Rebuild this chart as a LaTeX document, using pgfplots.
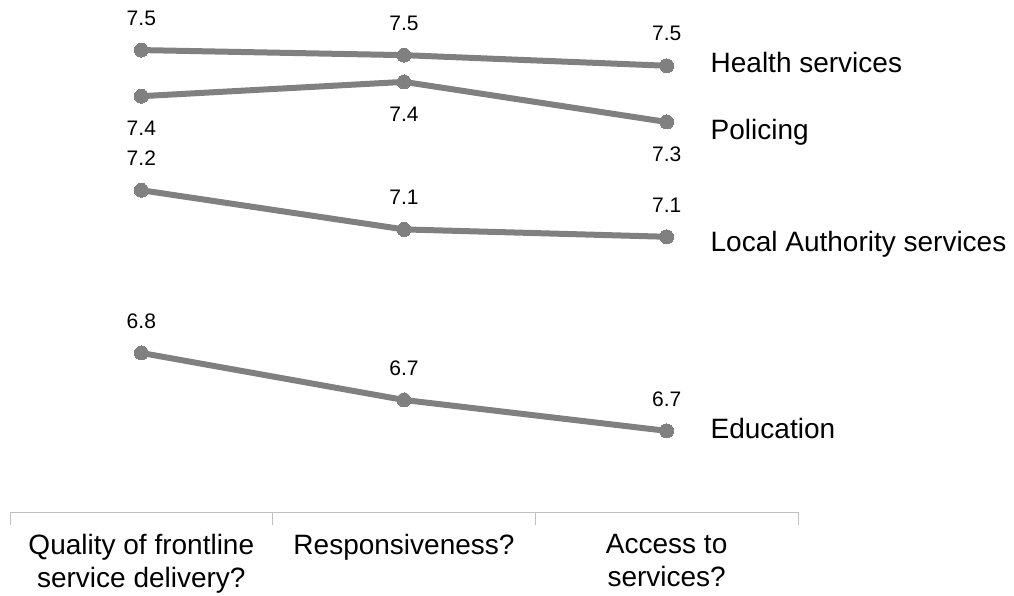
\documentclass[border=0pt]{standalone}
\usepackage{fontspec}
\setmainfont{Liberation Sans}
\usepackage{pgfplots}
\pgfplotsset{compat=1.18}

\definecolor{linegray}{HTML}{808080}
\definecolor{axisgray}{HTML}{BFBFBF}
\newcommand\bigfont{\fontsize{28}{33}\selectfont}
\newcommand\valfont{\fontsize{21}{25}\selectfont}

\pgfplotsset{
  % value labels printed from the plotted value, one decimal
  vals/.style={
    nodes near coords,
    every node near coord/.append style={
      black, font=\valfont, inner sep=0pt, anchor=center, yshift=#1,
      /pgf/number format/fixed,
      /pgf/number format/fixed zerofill,
      /pgf/number format/precision=1,
      /pgf/number format/assume math mode=true}},
}
% series name to the right of the last point
\tikzset{serieslabel/.style={black, font=\bigfont, inner sep=0pt, anchor=base west, xshift=41pt}}

\begin{document}
\begin{tikzpicture}
\begin{axis}[
  at={(10pt,83pt)}, anchor=south west,
  scale only axis, width=788pt, height=507.1pt,
  xmin=-0.5, xmax=2.5, ymin=6.5, ymax=7.6,
  axis x line*=bottom, axis y line=none,
  x axis line style={axisgray, line width=1pt},
  xtick={0,1,2},
  xticklabels={{Quality of frontline\\service delivery?},{Responsiveness?},{Access to\\services?}},
  major tick length=0pt,
  xticklabel style={font=\bigfont, align=center, inner sep=0pt, anchor=north, yshift=-22pt},
  extra x ticks={-0.5,0.5,1.5,2.5},
  extra x tick labels={},
  extra x tick style={major tick length=13pt, tick align=outside,
    tick style={axisgray, line width=1pt}},
  clip=false,
  every axis plot/.append style={linegray, line width=6pt, line join=round, line cap=round,
    mark=*, mark size=7pt, mark options={solid, fill=linegray, line width=0pt}},
]
% Health services
\addplot[vals=32pt] coordinates {(0,7.502) (1,7.491) (2,7.468)}
  node[serieslabel, pos=1, yshift=-6.6pt] {Health services};
% Policing
\addplot[vals=-32pt] coordinates {(0,7.402) (1,7.433) (2,7.346)}
  node[serieslabel, pos=1, yshift=-18pt] {Policing};
% Local Authority services
\addplot[vals=32pt] coordinates {(0,7.198) (1,7.113) (2,7.097)}
  node[serieslabel, pos=1, yshift=-15pt] {Local Authority services};
% Education
\addplot[vals=32pt] coordinates {(0,6.845) (1,6.743) (2,6.676)}
  node[serieslabel, pos=1, yshift=-8pt] {Education};
\end{axis}
\pgfresetboundingbox
\path (0,0) rectangle (1014pt,595pt);
\end{tikzpicture}
\end{document}
